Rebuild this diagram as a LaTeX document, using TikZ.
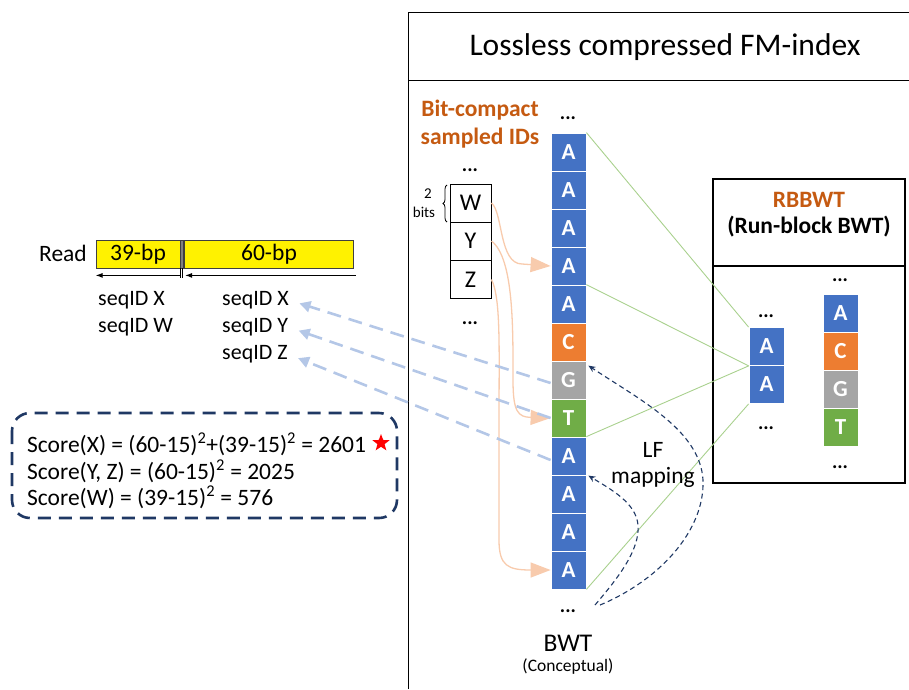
\documentclass[tikz,border=0pt]{standalone}
\usepackage{fontspec}
\setmainfont{Carlito}
\usetikzlibrary{arrows.meta,shapes.geometric,decorations.pathreplacing,calc}
\definecolor{cblue}{HTML}{4472C4}
\definecolor{corange}{HTML}{ED7D31}
\definecolor{cgray}{HTML}{A5A5A5}
\definecolor{cgreen}{HTML}{70AD47}
\definecolor{dorange}{HTML}{C55A11}
\definecolor{peach}{HTML}{F8CBAD}
\definecolor{lblue}{HTML}{B4C7E7}
\definecolor{navy}{HTML}{1F3864}
\definecolor{lgreen}{HTML}{A9D18E}
\definecolor{dgray}{HTML}{404040}
\newcommand{\fsz}[1]{\fontsize{#1}{#1}\selectfont}
\begin{document}
\begin{tikzpicture}[x=1pt,y=-1pt,
  cell/.style={rectangle, minimum width=35pt, minimum height=38pt, inner sep=0pt, draw=white, line width=0.8pt, text=white, font=\fsz{23}\bfseries},
  idbox/.style={rectangle, draw=black, line width=0.9pt, minimum width=41pt, minimum height=38pt, inner sep=0pt, font=\fsz{24}},
  dots/.style={inner sep=0pt, font=\fsz{20}\bfseries},
  txt/.style={inner sep=0pt, font=\fsz{23.5}},
  bar/.style={rectangle, draw=dgray, line width=0.8pt, fill=yellow, minimum height=28pt, inner sep=0pt, font=\fsz{23.5}},
  greenline/.style={lgreen, line width=0.9pt},
  bluearrow/.style={lblue, line width=2.6pt, dash pattern=on 14pt off 8pt, -{Triangle[length=11pt,width=11pt]}, shorten >=11pt},
  peacharrow/.style={peach, line width=1.3pt, -{Triangle[length=20pt,width=15pt]}},
  lfarrow/.style={navy, line width=1.1pt, dash pattern=on 5pt off 3.5pt, -{Stealth[length=7pt,width=6pt]}},
  scorebox/.style={navy, line width=2.6pt, dash pattern=on 13pt off 8pt, rounded corners=18pt}
]
\useasboundingbox (0,0) rectangle (909,689);

% FM-index frame
\draw[line width=1pt] (408,689) -- (408,12) -- (909,12);
\draw[line width=1pt] (408,80) -- (909,80);
\node[inner sep=0pt, font=\fsz{31.5}] (title) at (665,47) {Lossless compressed FM-index};

% BWT column
\foreach \i/\l/\c in {1/A/cblue,2/A/cblue,3/A/cblue,4/A/cblue,5/A/cblue,6/C/corange,7/G/cgray,8/T/cgreen,9/A/cblue,10/A/cblue,11/A/cblue,12/A/cblue}
  \node[cell, fill=\c] (c\i) at (568.5,{152+38*(\i-1)}) {\l};
\node[dots] (bwtdotstop) at (568,118) {...};
\node[dots] (bwtdotsbot) at (568,611) {...};
\node[inner sep=0pt, font=\fsz{25.5}] (bwt) at (568,643) {BWT};
\node[inner sep=0pt, font=\fsz{17.5}] (concept) at (568,666) {(Conceptual)};

% Bit-compact sampled IDs
\node[inner sep=0pt, font=\fsz{23.5}\bfseries, text=dorange] (bc1) at (480,110) {Bit-compact};
\node[inner sep=0pt, font=\fsz{23.5}\bfseries, text=dorange] (bc2) at (480,138) {sampled IDs};
\node[dots] (iddotstop) at (470,170) {...};
\node[idbox] (bw) at (470.5,203) {W};
\node[idbox] (by) at (470.5,241) {Y};
\node[idbox] (bz) at (470.5,279.5) {Z};
\node[dots] (iddotsbot) at (470,323) {...};
\draw[decorate, decoration={brace, amplitude=4pt}, line width=0.8pt] (447,222) -- (447,185);
\node[inner sep=0pt, font=\fsz{15}] (two) at (428,194) {2};
\node[inner sep=0pt, font=\fsz{15}] (bits) at (424,212) {bits};

% orange curves
\draw[peacharrow] (bw.east) .. controls (503,212) and (499,264) .. (522,264) -- (c4.west);
\draw[peacharrow] (by.east) .. controls (514,258) and (513,330) .. (513,380) .. controls (513,412) and (518,417) .. (c8.west);
\draw[peacharrow] (bz.east) .. controls (501,298) and (499,350) .. (499,420) -- (499,540) .. controls (499,566) and (508,570) .. (c12.west);

% RBBWT box
\draw[line width=2.6pt] (713,179) rectangle (905,483);
\draw[line width=2.6pt] (713,266) -- (905,266);
\node[inner sep=0pt, font=\fsz{23.5}\bfseries, text=dorange] (rbt) at (809,200) {RBBWT};
\node[inner sep=0pt, font=\fsz{23.5}\bfseries] (rbt2) at (809,227) {(Run-block BWT)};
\node[cell, fill=cblue] (r1) at (766.5,346.5) {A};
\node[cell, fill=cblue] (r2) at (766.5,384.5) {A};
\node[dots] (rdots1) at (766,316) {...};
\node[dots] (rdots2) at (766,428) {...};
\foreach \i/\l/\c in {1/A/cblue,2/C/corange,3/G/cgray,4/T/cgreen}
  \node[cell, fill=\c] (q\i) at (840.5,{313+38*(\i-1)}) {\l};
\node[dots] (qdots1) at (840,280) {...};
\node[dots] (qdots2) at (840,467) {...};

% green lines
\draw[greenline] (c1.north east) -- (r1.north west);
\draw[greenline] (c5.north east) -- (r1.south west);
\draw[greenline] (c9.north east) -- (r1.south west);
\draw[greenline] (c12.south east) -- (r2.south west);

% LF mapping
\coordinate (lf0) at (595,605);
\coordinate (lf1) at (600,605);
\draw[lfarrow] (lf0) .. controls (618,578) and (640,550) .. (638,525) .. controls (636,503) and (612,490) .. ([shift={(2,1)}]c10.north east);
\draw[lfarrow] (lf1) .. controls (660,580) and (705,530) .. (703,480) .. controls (700,430) and (640,400) .. ([shift={(2,5)}]c7.north east);
\node[inner sep=0pt, font=\fsz{23.5}] (lf) at (653,450) {LF};
\node[inner sep=0pt, font=\fsz{23.5}] (mapping) at (653,477) {mapping};

% Read
\node[inner sep=0pt, font=\fsz{23.5}, anchor=east] (read) at (87,253) {Read};
\node[bar, minimum width=84pt] (bar1) at (138,254) {39-bp};
\node[rectangle, draw=dgray, fill=gray, line width=0.5pt, minimum width=3pt, minimum height=28pt, inner sep=0pt] (sep) at (182.2,254) {};
\node[bar, minimum width=169pt] (bar2) at (269,254) {60-bp};
\draw[line width=0.8pt] (bar1.south east) -- ++(0,10);
\draw[line width=0.8pt] (bar2.south west) ++(-1.5,0) -- ++(0,10);
\draw[line width=1pt, -{Latex[length=7pt,width=5pt]}] ([yshift=-7pt]bar1.south east) -- ([yshift=-7pt]bar1.south west);
\draw[line width=1pt, -{Latex[length=7pt,width=5pt]}] ([shift={(2pt,-7pt)}]bar2.south east) -- ([shift={(1pt,-7pt)}]bar2.south west);

\node[txt, anchor=west, font=\fsz{22}] (sxl) at (98,300) {seqID X};
\node[txt, anchor=west, font=\fsz{22}] (swl) at (98,327) {seqID W};
\node[txt, anchor=west, font=\fsz{22}] (sx) at (222,300) {seqID X};
\node[txt, anchor=west, font=\fsz{22}] (sy) at (222,327) {seqID Y};
\node[txt, anchor=west, font=\fsz{22}] (sz) at (222,354) {seqID Z};

% blue dashed arrows
\draw[bluearrow] ([yshift=-3pt]c7.west) -- (sx.east);
\draw[bluearrow] (c8.west) -- (sy.east);
\draw[bluearrow] ([yshift=-4pt]c9.west) -- (sz.east);

% Score box
\draw[scorebox] (12,413) rectangle (397,518);
\node[txt, anchor=west] (s1) at (27,444) {Score(X) = (60-15)\textsuperscript{2}+(39-15)\textsuperscript{2} = 2601};
\node[txt, anchor=west] (s2) at (27,471) {Score(Y, Z) = (60-15)\textsuperscript{2} = 2025};
\node[txt, anchor=west] (s3) at (27,497) {Score(W) = (39-15)\textsuperscript{2} = 576};
\node[star, star points=5, star point ratio=2.4, fill=red, inner sep=0pt, minimum size=18pt] (star) at (381,443) {};
\end{tikzpicture}
\end{document}
